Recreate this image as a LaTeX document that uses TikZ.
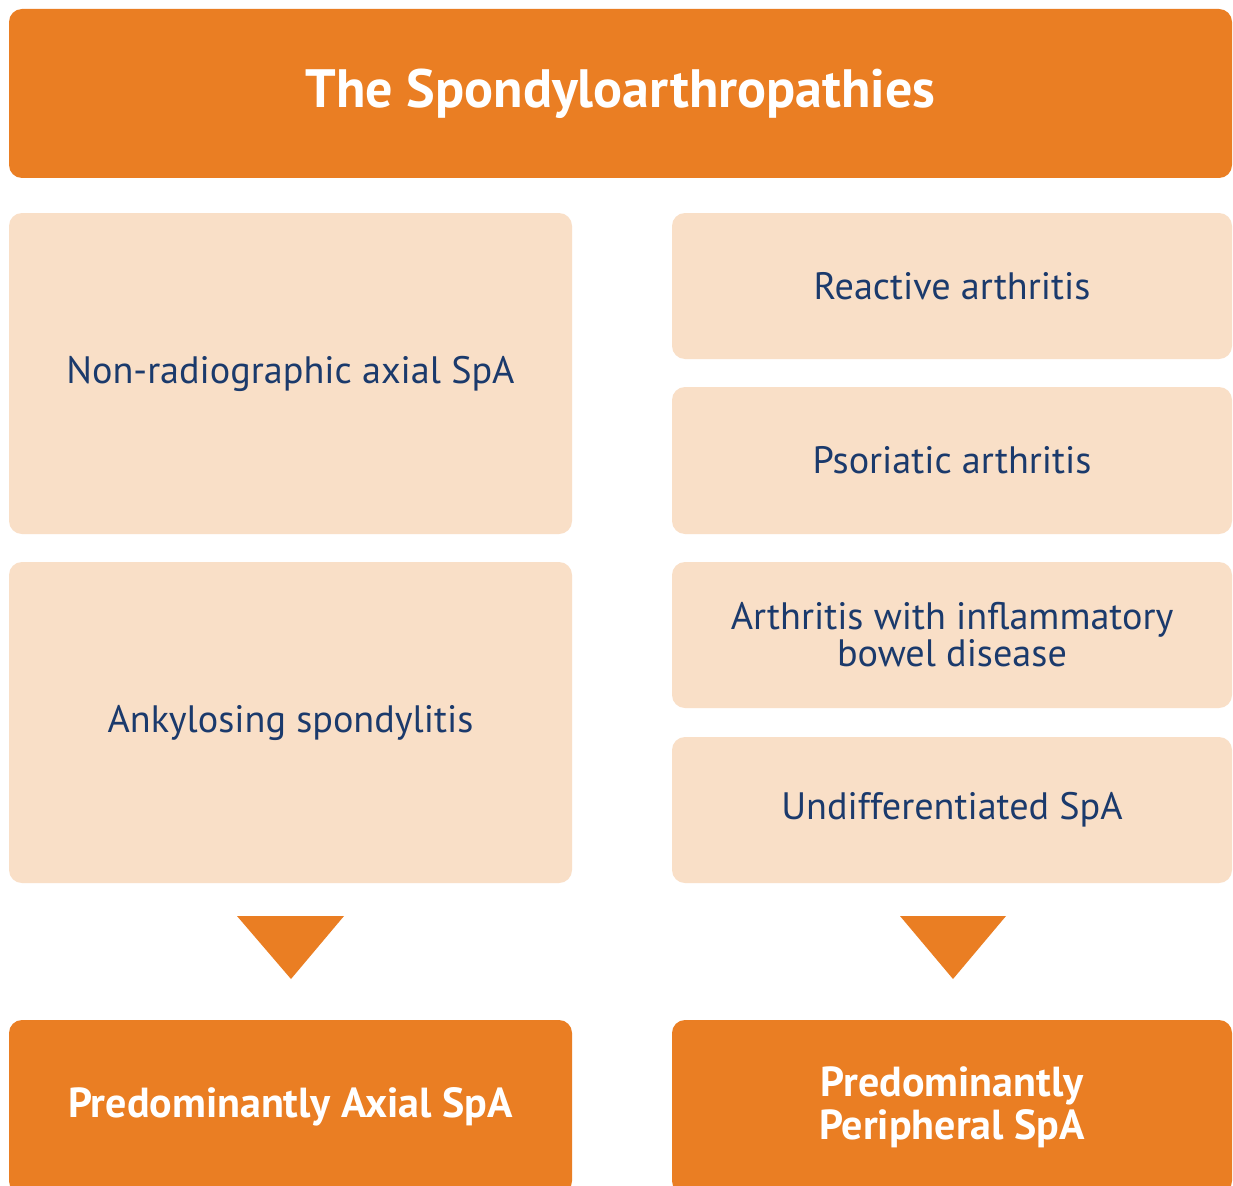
\documentclass[tikz,border=0pt]{standalone}
\usepackage{fontspec}
\setmainfont{PT Sans}
\definecolor{spaorange}{HTML}{EA7E23}
\definecolor{spapeach}{HTML}{F9DFC7}
\definecolor{spanavy}{HTML}{1B3A6C}
\tikzset{
  boxbase/.style={rounded corners=13pt, inner sep=0pt, align=center},
  headbox/.style={boxbase, fill=spaorange, text=white, font=\fontsize{54}{58}\selectfont\bfseries},
  itembox/.style={boxbase, fill=spapeach, text=spanavy, font=\fontsize{38.2}{37}\selectfont},
  resultbox/.style={boxbase, fill=spaorange, text=white, font=\fontsize{42}{43}\selectfont\bfseries},
  pointer/.style={fill=spaorange}
}
\begin{document}
\begin{tikzpicture}[x=1pt,y=-1pt]
      \clip (0,0) rectangle (1233,1185);
      \fill[white] (0,0) rectangle (1233,1185);
      \node[headbox, minimum width=1223pt, minimum height=169pt] (spa) at (620.5,93.5) {The Spondyloarthropathies};
      % axial column
      \node[itembox, minimum width=563pt, minimum height=321pt] (nraxspa) at (290.5,373.5) {Non-radiographic axial SpA};
      \node[itembox, minimum width=563pt, minimum height=321pt] (as) at (290.5,722.5) {Ankylosing spondylitis};
      % peripheral column
      \node[itembox, minimum width=560pt, minimum height=146pt] (rea) at (952,286) {Reactive arthritis};
      \node[itembox, minimum width=560pt, minimum height=147pt] (psa) at (952,460.5) {Psoriatic arthritis};
      \node[itembox, minimum width=560pt, minimum height=146pt] (ibd) at (952,635) {Arthritis with inflammatory\\bowel disease};
      \node[itembox, minimum width=560pt, minimum height=146pt] (uspa) at (952,810) {Undifferentiated SpA};
      % outcomes
      \node[resultbox, minimum width=563pt, minimum height=174pt] (axspa) at (290.5,1107) {Predominantly Axial SpA};
      \node[resultbox, minimum width=560pt, minimum height=174pt] (pspa) at (952,1107) {Predominantly\\Peripheral SpA};
      \begin{scope}[pointer]
        \fill (237,916) -- (344,916) -- (291,979) -- cycle;
        \fill (900,916) -- (1006,916) -- (953,979) -- cycle;
      \end{scope}
    \end{tikzpicture}
\end{document}
